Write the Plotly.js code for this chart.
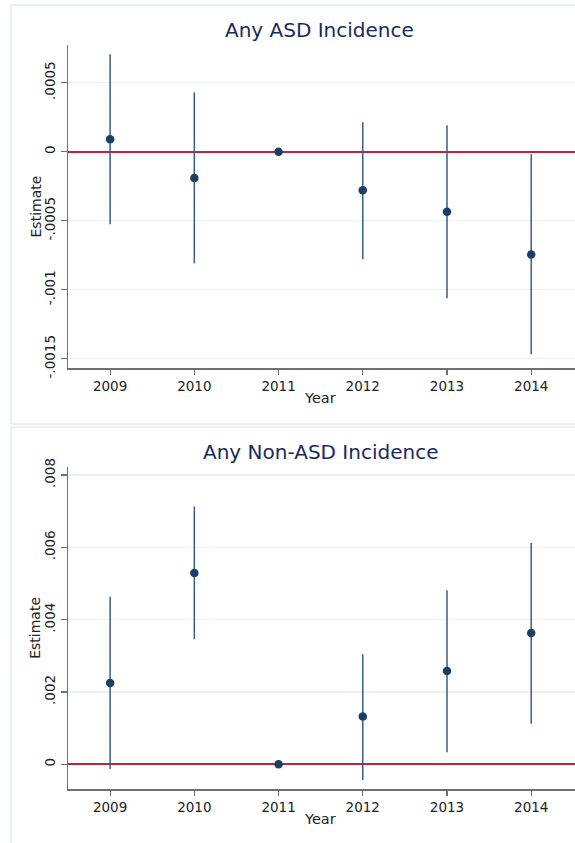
<!DOCTYPE html>
<html>
<head>
<meta charset="utf-8">
<script src="https://cdn.plot.ly/plotly-3.0.1.min.js"></script>
<style>html,body{margin:0;padding:0;background:#fff;}#chart{width:575px;height:843px;}</style>
</head>
<body>
<div id="chart"></div>
<script>
// ---- data ----
const years = [2009, 2010, 2011, 2012, 2013, 2014];

const asdEst = [0.00009, -0.00019, 0, -0.00028, -0.000435, -0.000745];
const asdLo  = [-0.000526, -0.000809, 0, -0.00078, -0.001062, -0.001468];
const asdHi  = [0.000706, 0.00043, 0, 0.000213, 0.000191, -0.000019];

const nonEst = [0.00225, 0.00529, 0, 0.00132, 0.00258, 0.00363];
const nonLo  = [-0.00013, 0.003465, 0, -0.000434, 0.000332, 0.001123];
const nonHi  = [0.004634, 0.00713, 0, 0.003041, 0.00481, 0.00612];

const asdTickVals = [0.0005, 0, -0.0005, -0.001, -0.0015];
const asdTickText = [".0005", "0", "-.0005", "-.001", "-.0015"];
const nonTickVals = [0.008, 0.006, 0.004, 0.002, 0];
const nonTickText = [".008", ".006", ".004", ".002", "0"];

const titles = ["Any ASD Incidence", "Any Non-ASD Incidence"];

// ---- styling ----
const W = 575, H = 843;
const FONT = "DejaVu Sans";
const pointColor = "#1a3f66";
const barColor = "#3a5d86";
const navy = "#1a2a5e";
const axisColor = "#6f6f6f";
const gridColor = "#e9f1f4";
const zeroColor = "#c8203a";

function py(pix) { return (H - pix) / H; }
function px(pix) { return pix / W; }

function trace(est, lo, hi, xa, ya) {
  return {
    type: "scatter", mode: "markers",
    x: years, y: est, xaxis: xa, yaxis: ya,
    marker: {color: pointColor, size: 8.5},
    error_y: {
      type: "data", symmetric: false,
      array: hi.map((h, i) => h - est[i]),
      arrayminus: lo.map((l, i) => est[i] - l),
      color: barColor, thickness: 1.5, width: 0
    },
    hoverinfo: "x+y", showlegend: false
  };
}

const data = [
  trace(asdEst, asdLo, asdHi, "x", "y"),
  trace(nonEst, nonLo, nonHi, "x2", "y2")
];

function xaxis(anchor) {
  return {
    anchor: anchor, domain: [px(68), 1], range: [2008.5, 2014.52],
    tickvals: years, ticktext: years.map(String),
    showgrid: false, zeroline: false,
    showline: true, linecolor: axisColor, linewidth: 1.5,
    ticks: "outside", ticklen: 5, tickcolor: axisColor, tickwidth: 1.2,
    tickfont: {family: FONT, size: 13.5, color: "#222"},
    fixedrange: true
  };
}
function yaxis(anchor, dom, rng, tv, tt) {
  return {
    anchor: anchor, domain: dom, range: rng,
    tickvals: tv, ticktext: tt, tickangle: -90,
    showgrid: true, gridcolor: gridColor, gridwidth: 1.2,
    zeroline: true, zerolinecolor: zeroColor, zerolinewidth: 1.6,
    showline: true, linecolor: axisColor, linewidth: 1.5,
    ticks: "outside", ticklen: 6, tickcolor: axisColor, tickwidth: 1.2,
    tickfont: {family: FONT, size: 13.5, color: "#222"},
    fixedrange: true
  };
}

const layout = {
  width: W, height: H,
  margin: {l: 0, r: 0, t: 0, b: 0},
  paper_bgcolor: "#ffffff", plot_bgcolor: "#ffffff",
  font: {family: FONT, color: "#222"},
  showlegend: false,
  xaxis: xaxis("y"),
  yaxis: yaxis("x", [py(368), py(45)], [-0.001567, 0.000773], asdTickVals, asdTickText),
  xaxis2: xaxis("y2"),
  yaxis2: yaxis("x2", [py(789), py(466.7)], [-0.000683, 0.00823], nonTickVals, nonTickText),
  shapes: [
    {type: "rect", xref: "paper", yref: "paper", x0: px(11), x1: 1.02, y0: py(424), y1: py(5),
     line: {color: "#e4ecf0", width: 1.5}, layer: "below"},
    {type: "rect", xref: "paper", yref: "paper", x0: px(11), x1: 1.02, y0: -0.02, y1: py(427),
     line: {color: "#e4ecf0", width: 1.5}, layer: "below"}
  ],
  annotations: [
    {text: titles[0], xref: "paper", yref: "paper", x: px(319), y: py(30),
     xanchor: "center", yanchor: "middle", showarrow: false,
     font: {family: FONT, size: 20, color: navy}},
    {text: titles[1], xref: "paper", yref: "paper", x: px(320), y: py(451.5),
     xanchor: "center", yanchor: "middle", showarrow: false,
     font: {family: FONT, size: 20, color: navy}},
    {text: "Estimate", xref: "paper", yref: "paper", x: px(35), y: py(206.5), textangle: -90,
     xanchor: "center", yanchor: "middle", showarrow: false,
     font: {family: FONT, size: 14, color: "#222"}},
    {text: "Estimate", xref: "paper", yref: "paper", x: px(35), y: py(627.8), textangle: -90,
     xanchor: "center", yanchor: "middle", showarrow: false,
     font: {family: FONT, size: 14, color: "#222"}},
    {text: "Year", xref: "paper", yref: "paper", x: px(320), y: py(398),
     xanchor: "center", yanchor: "middle", showarrow: false,
     font: {family: FONT, size: 14.5, color: "#222"}},
    {text: "Year", xref: "paper", yref: "paper", x: px(320), y: py(819),
     xanchor: "center", yanchor: "middle", showarrow: false,
     font: {family: FONT, size: 14.5, color: "#222"}}
  ]
};

Plotly.newPlot("chart", data, layout, {staticPlot: true, displayModeBar: false});
</script>
</body>
</html>
